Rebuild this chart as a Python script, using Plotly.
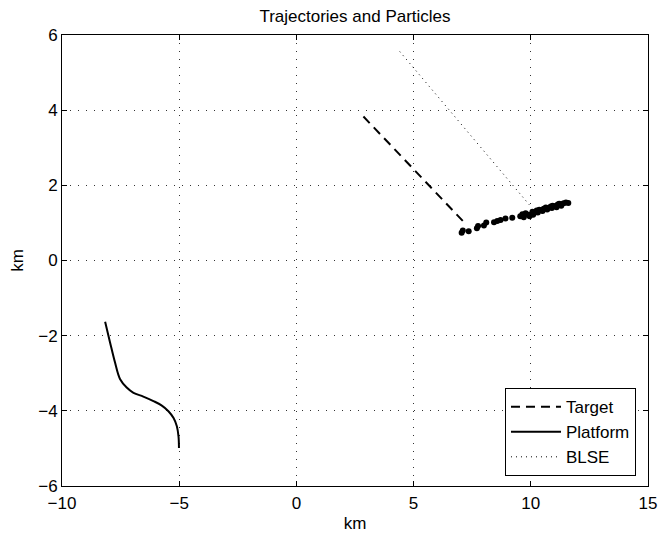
import plotly.graph_objects as go

target_x = [2.86, 7.12]
target_y = [3.83, 1.04]

platform_x = [-8.16, -7.95, -7.74, -7.52, -7.24, -6.95, -6.53, -6.10, -5.74, -5.46, -5.24, -5.10, -5.03, -5.01]
platform_y = [-1.63, -2.18, -2.71, -3.16, -3.38, -3.52, -3.62, -3.74, -3.86, -4.01, -4.19, -4.41, -4.68, -4.99]

blse_x = [4.41, 9.94]
blse_y = [5.56, 1.48]

particle_x = [7.05, 7.10, 7.35, 7.70, 7.75, 8.00, 8.10, 8.43, 8.57, 8.71, 8.92, 9.21, 9.55, 9.64, 9.70, 9.78,
              9.90, 10.07, 10.15, 10.25, 10.36, 10.45, 10.55, 10.64, 10.75, 10.85, 10.93, 11.05, 11.15, 11.21,
              11.30, 11.40, 11.50, 11.60, 10.30, 10.50, 10.70, 10.90, 11.10, 11.30, 10.10, 9.95]
particle_y = [0.74, 0.80, 0.78, 0.86, 0.92, 0.93, 1.01, 1.02, 1.05, 1.08, 1.12, 1.14, 1.18, 1.23, 1.15, 1.26,
              1.22, 1.30, 1.27, 1.33, 1.35, 1.34, 1.38, 1.41, 1.40, 1.44, 1.46, 1.45, 1.49, 1.51,
              1.50, 1.52, 1.54, 1.53, 1.28, 1.32, 1.36, 1.40, 1.42, 1.46, 1.22, 1.18]

fig = go.Figure()
fig.add_trace(go.Scatter(x=target_x, y=target_y, mode="lines", name="Target",
                         line=dict(color="black", width=2, dash="9px,6px")))
fig.add_trace(go.Scatter(x=platform_x, y=platform_y, mode="lines", name="Platform",
                         line=dict(color="black", width=2, shape="spline")))
fig.add_trace(go.Scatter(x=blse_x, y=blse_y, mode="lines", name="BLSE",
                         line=dict(color="black", width=1, dash="1px,4px")))
fig.add_trace(go.Scatter(x=particle_x, y=particle_y, mode="markers", showlegend=False,
                         marker=dict(color="black", size=6)))

axis_common = dict(showgrid=True, gridcolor="#333333", griddash="1px,7px", gridwidth=1,
                   zeroline=False, showline=True, linecolor="black", linewidth=1,
                   mirror="ticks", ticks="inside", ticklen=5, tickcolor="black",
                   tickfont=dict(size=17, color="black"), automargin=False)

fig.update_layout(
    width=659, height=533,
    paper_bgcolor="white", plot_bgcolor="white",
    font=dict(family="Liberation Sans, Arial, sans-serif", color="black", size=17),
    title=dict(text="Trajectories and Particles", x=0.5, xref="paper", xanchor="center",
               y=1, yref="container", yanchor="top", pad=dict(t=10),
               font=dict(size=17), automargin=False),
    margin=dict(l=62, r=11, t=35, b=47),
    xaxis=dict(range=[-10, 15], tickvals=[-10, -5, 0, 5, 10, 15], ticklabelstandoff=2,
               title=dict(text="km", standoff=7, font=dict(size=17)), **axis_common),
    yaxis=dict(range=[-6, 6], tickvals=[-6, -4, -2, 0, 2, 4, 6],
               title=dict(text="km", standoff=10, font=dict(size=17)), **axis_common),
    legend=dict(x=0.9795, y=0.022, xanchor="right", yanchor="bottom",
                bgcolor="white", bordercolor="black", borderwidth=1,
                font=dict(size=17), tracegroupgap=0, itemwidth=50),
    showlegend=True,
)

fig.write_html("out.html", config={"displayModeBar": False},
               post_script="document.body.style.margin='0';"
                           "document.documentElement.style.overflow='hidden';")
